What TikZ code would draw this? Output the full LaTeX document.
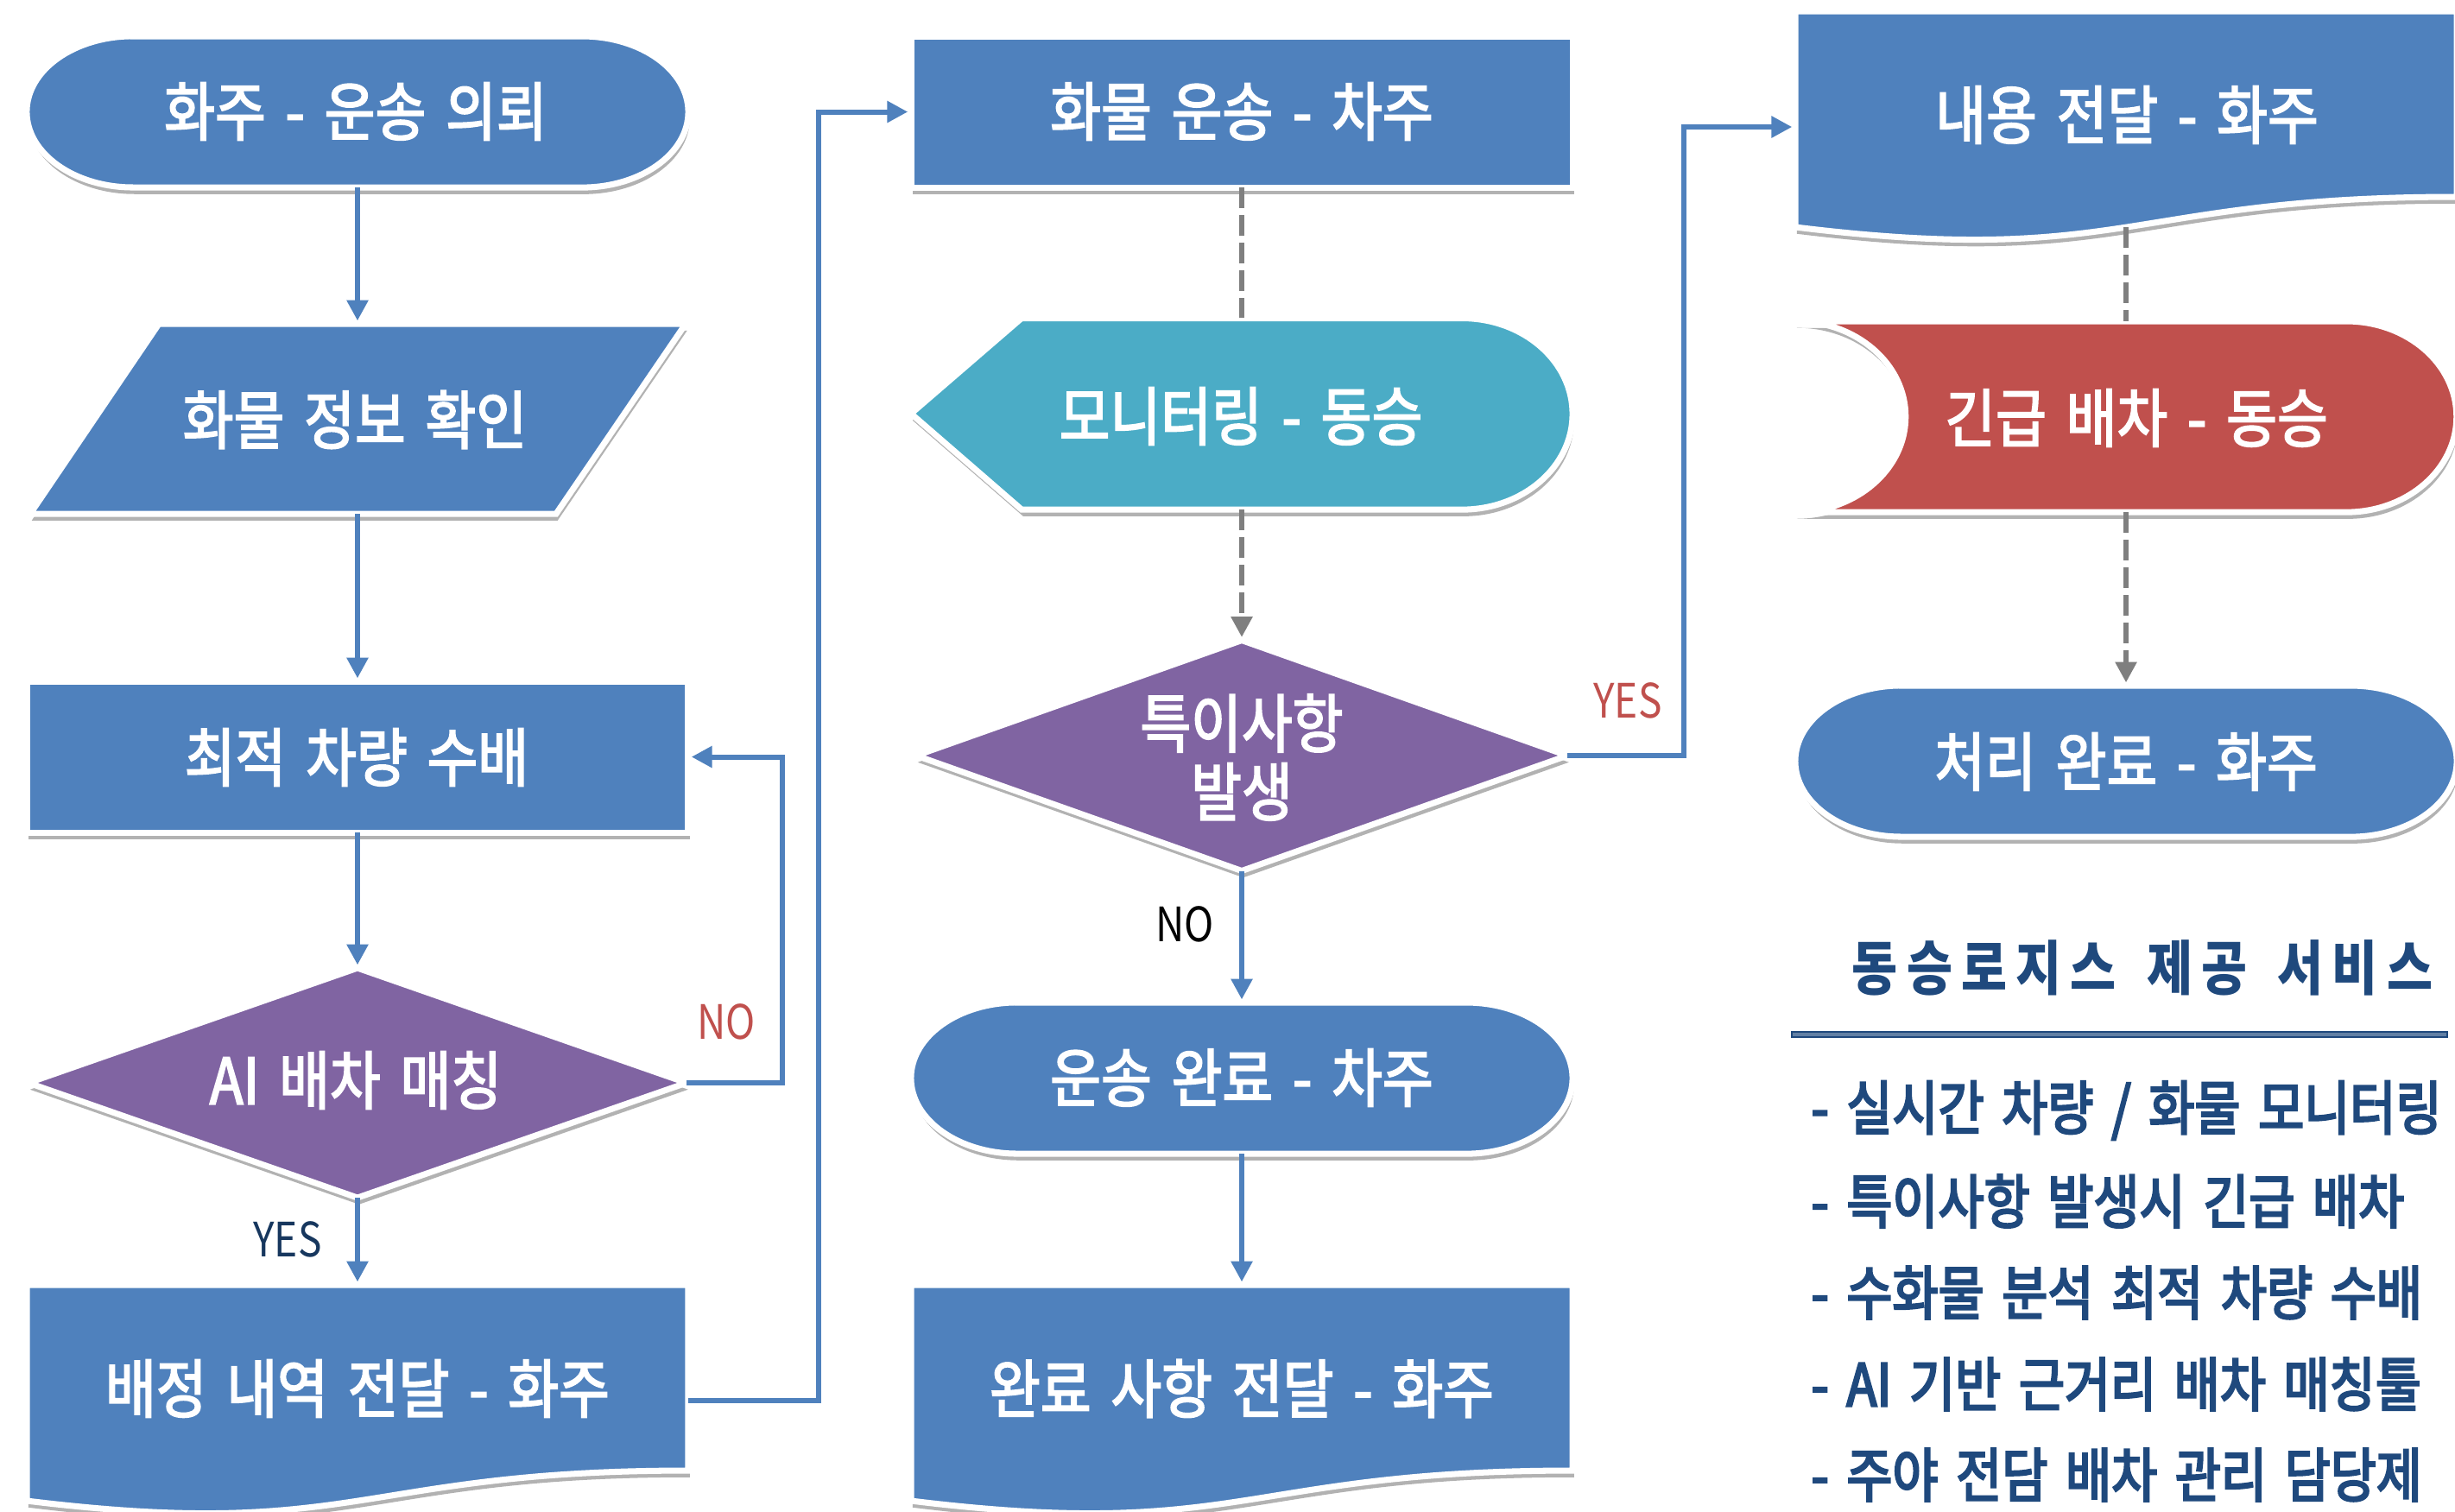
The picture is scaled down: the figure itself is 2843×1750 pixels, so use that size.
\documentclass[tikz,border=0pt]{standalone}
\usepackage{fontspec}
\setmainfont{Noto Sans CJK KR}[FakeStretch=0.84,WordSpace=1.5]
\newfontfamily\nodefont{Noto Sans CJK KR}[FakeStretch=0.865,WordSpace=1.6,FakeBold=2.5]
\newfontfamily\listfont{Noto Sans CJK KR}[FakeStretch=0.85,WordSpace=1.6,FakeBold=3.5]
\newfontfamily\titlefont{Noto Sans CJK KR}[FakeStretch=0.84,WordSpace=1.5,LetterSpace=15]
\usetikzlibrary{arrows.meta,shadows}
\definecolor{cblue}{HTML}{4F81BD}
\definecolor{cpurple}{HTML}{8064A2}
\definecolor{cteal}{HTML}{4BACC6}
\definecolor{cred}{HTML}{C0504D}
\definecolor{cnavy}{HTML}{1F497D}
\definecolor{cdark}{HTML}{17375E}
\definecolor{cgrey}{HTML}{7F7F7F}
\begin{document}
\begin{tikzpicture}[x=0.01cm,y=-0.01cm,
  shp/.style={draw=white,line width=2pt,drop shadow={shadow xshift=0.5pt,shadow yshift=-2.2pt,opacity=0.3,fill=black}},
  box/.style={inner sep=0pt,outer sep=0pt,minimum width=7.66cm,draw=none,rectangle},
  lbl/.style={text=white,font=\fontsize{21pt}{22.5pt}\nodefont,inner sep=0pt,align=center},
  yn/.style={font=\fontsize{15.6pt}{18pt}\selectfont,inner sep=0pt},
  item/.style={text=cnavy,font=\fontsize{19.3pt}{21pt}\listfont,inner sep=0pt,anchor=west},
  conn/.style={draw=cblue,line width=1.7pt,-{Triangle[length=6.8pt,width=6.8pt]},shorten >=1pt},
  dconn/.style={draw=cgrey,line width=1.9pt,dash pattern=on 6.8pt off 2.3pt},
  dconnarrow/.style={dconn,-{Triangle[length=6.8pt,width=6.8pt]},shorten >=1pt}
]
\fill[white] (0,0) rectangle (2843,1750);
\useasboundingbox (0,0) rectangle (2843,1750);

% ---------- shapes ----------
% column 1
\path[shp,fill=cblue] (154,42) -- (674,42) arc[start angle=90,end angle=-90,x radius=1.23cm,y radius=0.875cm] -- (154,217) arc[start angle=270,end angle=90,x radius=1.23cm,y radius=0.875cm] -- cycle;
\path[shp,fill=cblue] (184,375) -- (794,375) -- (644,595) -- (35,595) -- cycle;
\path[shp,fill=cblue] (31,789) rectangle (797,964);
\path[shp,fill=cpurple] (414,1121) -- (795,1254) -- (414,1387) -- (33,1254) -- cycle;
\path[shp,fill=cblue] (31,1488) -- (797,1488) -- (797,1703) .. controls (414,1703) and (414,1785) .. (31,1738) -- cycle;
% column 2
\path[shp,fill=cblue] (1055,42) rectangle (1821,217);
\path[shp,fill=cteal] (1055,479) -- (1183,368.5) -- (1693,368.5) arc[start angle=90,end angle=-90,x radius=1.28cm,y radius=1.1075cm] -- (1183,590) -- cycle;
\path[shp,fill=cpurple] (1438,741.5) -- (1815,875) -- (1438,1008.5) -- (1061,875) -- cycle;
\path[shp,fill=cblue] (1178,1161) -- (1698,1161) arc[start angle=90,end angle=-90,x radius=1.23cm,y radius=0.875cm] -- (1178,1336) arc[start angle=270,end angle=90,x radius=1.23cm,y radius=0.875cm] -- cycle;
\path[shp,fill=cblue] (1055,1488) -- (1821,1488) -- (1821,1703) .. controls (1438,1703) and (1438,1785) .. (1055,1738) -- cycle;
% column 3
\path[shp,fill=cblue] (2079,13) -- (2845,13) -- (2845,228) .. controls (2462,228) and (2462,310) .. (2079,263) -- cycle;
\path[shp,fill=cred] (2079,372) -- (2717,372) arc[start angle=90,end angle=-90,x radius=1.277cm,y radius=1.105cm] -- (2079,593) arc[start angle=-90,end angle=90,x radius=1.277cm,y radius=1.105cm] -- cycle;
\path[shp,fill=cblue] (2202,794) -- (2722,794) arc[start angle=90,end angle=-90,x radius=1.23cm,y radius=0.875cm] -- (2202,969) arc[start angle=270,end angle=90,x radius=1.23cm,y radius=0.875cm] -- cycle;

% ---------- named anchor boxes ----------
\node[box,minimum height=1.75cm] (t1) at (414,129.5) {};
\node[box,minimum width=7.59cm,minimum height=2.2cm] (p2) at (414,485) {};
\node[box,minimum height=1.75cm] (r3) at (414,876.5) {};
\node[box,minimum width=7.62cm,minimum height=2.66cm] (d4) at (414,1254) {};
\node[box,minimum height=2.68cm] (doc5) at (414,1622) {};
\node[box,minimum height=1.75cm] (r6) at (1438,129.5) {};
\node[box,minimum height=2.215cm] (disp7) at (1438,479.25) {};
\node[box,minimum width=7.54cm,minimum height=2.67cm] (d8) at (1438,875) {};
\node[box,minimum height=1.75cm] (t9) at (1438,1248.5) {};
\node[box,minimum height=2.68cm] (doc10) at (1438,1622) {};
\node[box,minimum height=2.68cm] (doc11) at (2462,147) {};
\node[box,minimum height=2.21cm] (s12) at (2462,482.5) {};
\node[box,minimum height=1.75cm] (t13) at (2462,881.5) {};
\coordinate (doc11b) at (2462,263);

% ---------- texts ----------
\node[lbl] (t1t) at (412,129) {화주 - 운송 의뢰};
\node[lbl] (p2t) at (411,486) {화물 정보 확인};
\node[lbl] (r3t) at (413,877) {최적 차량 수배};
\node[lbl] (d4t) at (412,1251) {AI 배차 매칭};
\node[lbl] (doc5t) at (414,1608) {배정 내역 전달 - 화주};
\node[lbl] (r6t) at (1438,129) {화물 운송 - 차주};
\node[lbl] (disp7t) at (1437,482) {모니터링 - 동승};
\node[lbl] (d8t) at (1438,877) {특이사항\\발생};
\node[lbl] (t9t) at (1438,1248) {운송 완료 - 차주};
\node[lbl] (doc10t) at (1438,1608) {완료 사항 전달 - 화주};
\node[lbl] (doc11t) at (2463,133) {내용 전달 - 화주};
\node[lbl] (s12t) at (2474,484) {긴급 배차 - 동승};
\node[lbl] (t13t) at (2462,882) {처리 완료 - 화주};

% ---------- connectors ----------
\draw[conn] (t1.south) -- (p2.north);
\draw[conn] (p2.south) -- (r3.north);
\draw[conn] (r3.south) -- (d4.north);
\draw[conn] (d4.south) -- (doc5.north);
\draw[conn] (d4.east) -- ++(111,0) |- (r3.east);
\draw[conn] (doc5.east) -- ++(151,0) |- (r6.west);
\draw[dconn] (r6.south) -- (disp7.north);
\draw[dconnarrow] (disp7.south) -- (d8.north);
\draw[conn] (d8.south) -- (t9.north);
\draw[conn] (t9.south) -- (doc10.north);
\draw[conn] (d8.east) -- ++(135,0) |- (doc11.west);
\draw[dconn] (doc11b) -- (s12.north);
\draw[dconnarrow] (s12.south) -- (t13.north);

% ---------- connector labels ----------
\node[yn,text=cdark] (yes1) at (333,1435) {YES};
\node[yn,text=cred] (no1) at (841,1183) {NO};
\node[yn,text=cred] (yes2) at (1885,811) {YES};
\node[yn,text=black] (no2) at (1372,1070) {NO};

% ---------- service panel ----------
\node[text=cnavy,font=\fontsize{19.5pt}{21pt}\titlefont\bfseries,inner sep=0pt] (title) at (2481,1121) {동승로지스 제공 서비스};
\path[draw=cnavy,fill=cnavy!70!white,line width=0.6pt] (2075,1195) rectangle (2834,1201);
\node[item] (i1) at (2097,1286) {- 실시간 차량 / 화물 모니터링};
\node[item] (i2) at (2097,1391) {- 특이사항 발생시 긴급 배차};
\node[item] (i3) at (2097,1497) {- 수화물 분석 최적 차량 수배};
\node[item] (i4) at (2097,1603) {- AI 기반 근거리 배차 매칭툴};
\node[item] (i5) at (2097,1708) {- 주야 전담 배차 관리 담당제};
\end{tikzpicture}
\end{document}
